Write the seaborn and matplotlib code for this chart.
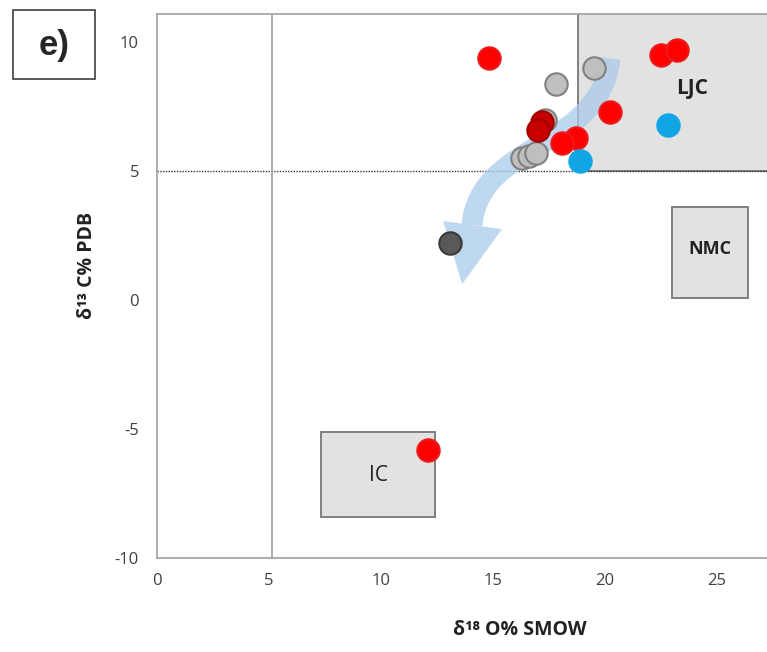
import numpy as np
import pandas as pd
import seaborn as sns
import matplotlib
matplotlib.use("Agg")
import matplotlib.pyplot as plt
from matplotlib.patches import Rectangle, PathPatch, Polygon
from matplotlib.path import Path

# ---- data ----
d18O = [14.8, 22.5, 23.2, 20.2, 18.7, 18.1, 17.2, 17.0, 12.1,
        17.8, 19.5, 16.3, 16.6, 16.9, 17.3,
        13.1,
        18.9, 22.8]
d13C = [9.4, 9.5, 9.7, 7.3, 6.3, 6.1, 6.9, 6.6, -5.8,
        8.4, 9.0, 5.5, 5.6, 5.7, 7.0,
        2.2,
        5.4, 6.8]
group = ["red", "red", "red", "red", "red", "red", "darkred", "darkred", "red",
         "gray", "gray", "gray", "gray", "gray", "gray",
         "dark",
         "blue", "blue"]
df = pd.DataFrame({"d18O": d18O, "d13C": d13C, "group": group})

fields = ["LJC", "NMC", "IC"]
field_x = [(18.8, 27.4), (23.0, 26.4), (7.3, 12.4)]
field_y = [(5.0, 11.2), (0.1, 3.6), (-8.4, -5.1)]
field_label_pos = [(23.9, 8.2), (24.7, 2.0), (9.9, -6.8)]

xticks = [0, 5, 10, 15, 20, 25]
yticks = [-10, -5, 0, 5, 10]

palette = {"gray": "#BFBFBF", "red": "#FF0000", "darkred": "#C80000",
           "dark": "#595959", "blue": "#12A5E6"}
edges = {"gray": "#808080", "red": "#EE1A1A", "darkred": "#A00000",
         "dark": "#3A3A3A", "blue": "#12A5E6"}

sns.set_style("white")
plt.rcParams["font.family"] = ["Open Sans", "DejaVu Sans"]
plt.rcParams["axes.unicode_minus"] = False

fig = plt.figure(figsize=(7.67, 6.52), dpi=100)
ax = fig.add_axes([157 / 767, (652 - 558) / 652, (767 - 157) / 767, (558 - 14) / 652])
ax.set_xlim(0, 27.23)
ax.set_ylim(-10, 11.1)

# field boxes
for name, (x0, x1), (y0, y1), (tx, ty) in zip(fields, field_x, field_y, field_label_pos):
    ax.add_patch(Rectangle((x0, y0), x1 - x0, y1 - y0, facecolor="#E2E2E2",
                           edgecolor="#808080", lw=1.4, zorder=1, clip_on=True))
    ax.text(tx, ty, name, ha="center", va="center",
            fontsize=15 if name != "NMC" else 13,
            fontweight="bold" if name != "IC" else "normal",
            color="#222222", zorder=2)

# reference lines
ax.axhline(5, color="#333333", lw=1.0, ls=(0, (1, 1)), zorder=1.5)
ax.axvline(5.15, color="#A0A0A0", lw=1.2, zorder=1.5)

# curved arrow
verts = [(20.22, 9.38), (19.78, 5.80), (14.42, 6.19), (14.06, 2.92)]
codes = [Path.MOVETO, Path.CURVE4, Path.CURVE4, Path.CURVE4]
arrow_col = "#A9CBEA"
ax.add_patch(PathPatch(Path(verts, codes), fill=False, edgecolor=arrow_col,
                       lw=15, alpha=0.75, capstyle="butt", zorder=2.5))
ax.add_patch(Polygon([(12.77, 3.07), (15.40, 2.76), (13.62, 0.62)], closed=True,
                     facecolor=arrow_col, edgecolor="none", alpha=0.75, zorder=2.5))

# points, drawn by group for layering
for g in ["gray", "dark", "darkred", "red", "blue"]:
    sub = df[df["group"] == g]
    sns.scatterplot(data=sub, x="d18O", y="d13C", ax=ax, color=palette[g],
                    edgecolor=edges[g], linewidth=1.5, s=260, zorder=3, legend=False)

# axes styling
ax.spines["right"].set_visible(False)
for side in ["left", "bottom", "top"]:
    ax.spines[side].set_color("#A0A0A0")
    ax.spines[side].set_linewidth(1.2)

ax.set_xticks(xticks)
ax.set_yticks(yticks)
ax.set_yticks(np.arange(-10, 11, 1), minor=True)
ax.tick_params(axis="x", direction="inout", length=10, color="#A0A0A0",
               labelsize=12, labelcolor="#404040", pad=6)
ax.tick_params(axis="y", which="both", direction="out", length=5, color="#A0A0A0",
               labelsize=12, labelcolor="#404040", pad=8)

ax.set_xlabel("δ¹⁸ O% SMOW", fontsize=14, fontweight="bold", color="#222222",
              family=["Open Sans", "DejaVu Sans"])
ax.set_ylabel("δ¹³ C% PDB", fontsize=14, fontweight="bold", color="#222222",
              family=["Open Sans", "DejaVu Sans"])
ax.xaxis.set_label_coords((520 - 157) / 610, -(620 - 558) / 544)
ax.yaxis.set_label_coords(-(157 - 97) / 610, (558 - 265) / 544)

# panel label
fig.add_artist(Rectangle((13 / 767, 1 - 79 / 652), 82 / 767, 69 / 652,
                         transform=fig.transFigure, facecolor="white",
                         edgecolor="#404040", lw=1.2))
fig.text(54 / 767, 1 - 45 / 652, "e)", ha="center", va="center",
         fontsize=25, fontweight="bold", family=["Liberation Sans", "DejaVu Sans"])

fig.savefig("out.png", dpi=100)
